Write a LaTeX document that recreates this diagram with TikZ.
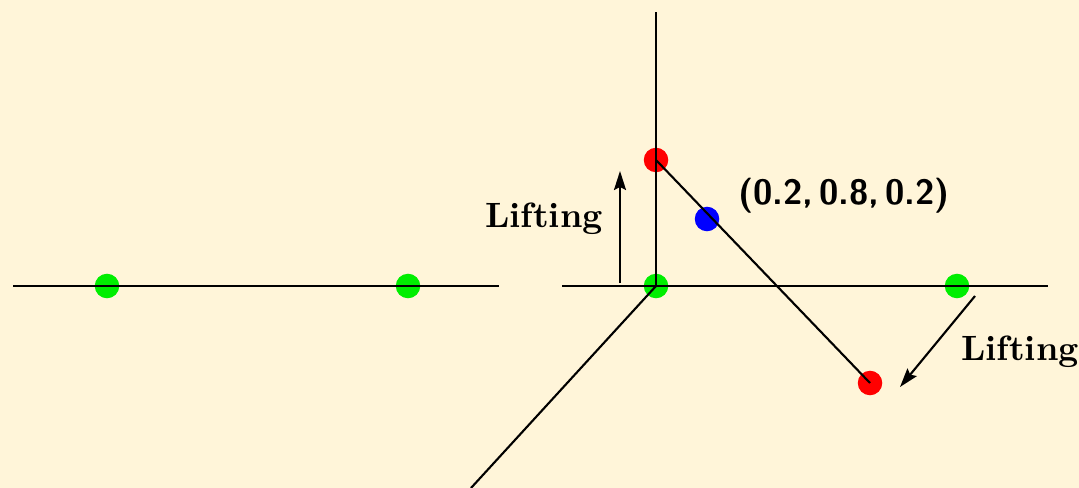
\documentclass[tikz,border=0pt]{standalone}
\usepackage{tikz}
\usetikzlibrary{arrows.meta}
\definecolor{cream}{RGB}{255,245,217}
\definecolor{ptgreen}{RGB}{0,238,0}

\begin{document}
\begin{tikzpicture}[x=0.01cm,y=-0.01cm,line width=0.6pt,
  dot/.style={circle,inner sep=0pt,minimum size=0.245cm},
  lift/.style={-{Stealth[length=1.9mm,width=1.2mm,inset=0.3mm]}}]
\fill[cream] (0,0) rectangle (1079,488);
\useasboundingbox (0,0) rectangle (1079,488);

% left: the line with two points
\coordinate (L1) at (13,286);
\coordinate (L2) at (499,286);
\node[dot,fill=ptgreen] (ga) at (107,286) {};
\node[dot,fill=ptgreen] (gb) at (408,286) {};
\draw (L1)--(L2);

% right: three axes
\coordinate (X1) at (562,286);
\coordinate (X2) at (1048,286);
\coordinate (Ztop) at (656,12);
\coordinate (Yend) at (471,488);
\node[dot,fill=ptgreen] (go) at (656,286) {};
\node[dot,fill=ptgreen] (gx) at (957,286) {};
\node[dot,fill=red] (ra) at (656,160) {};
\node[dot,fill=red] (rb) at (870,383) {};
\node[dot,fill=blue] (bp) at (707,219) {};
\draw (X1)--(X2);
\draw (go.center)--(Ztop);
\draw (go.center)--(Yend);
\draw (ra.center)--(rb.center);

\node[font=\sffamily\bfseries] (pt) at (844,196) {(0.2,\,0.8,\,0.2)};

% lifting arrows
\coordinate (A1) at (620,283);
\coordinate (A2) at (620,171);
\coordinate (B1) at (975,296);
\coordinate (B2) at (900,387);
\draw[lift] (A1)--(A2);
\draw[lift] (B1)--(B2);
\node[font=\bfseries] (la) at (544,219) {Lifting};
\node[font=\bfseries] (lb) at (1020,352) {Lifting};

\end{tikzpicture}
\end{document}
